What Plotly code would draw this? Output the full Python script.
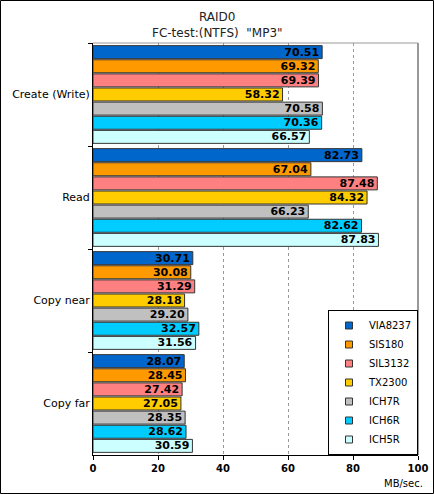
import plotly.graph_objects as go

categories = ["Create (Write)", "Read", "Copy near", "Copy far"]
series_names = ["VIA8237", "SIS180", "SIL3132", "TX2300", "ICH7R", "ICH6R", "ICH5R"]
series_values = [
    [70.51, 82.73, 30.71, 28.07],
    [69.32, 67.04, 30.08, 28.45],
    [69.39, 87.48, 31.29, 27.42],
    [58.32, 84.32, 28.18, 27.05],
    [70.58, 66.23, 29.20, 28.35],
    [70.36, 82.62, 32.57, 28.62],
    [66.57, 87.83, 31.56, 30.59],
]
colors = ["#0066CC", "#FF9900", "#FF8080", "#FFCC00", "#C0C0C0", "#00CCFF", "#CCFFFF"]
x_ticks = [0, 20, 40, 60, 80, 100]

fig = go.Figure()
for name, vals, col in zip(series_names, series_values, colors):
    fig.add_trace(go.Bar(
        y=categories, x=vals, name=name, orientation="h", showlegend=False,
        marker=dict(color=col, line=dict(color="#333333", width=1)),
        texttemplate="%{x:.2f}", textposition="inside", insidetextanchor="end",
        textangle=0, constraintext="none",
        textfont=dict(family="DejaVu Sans", size=11, color="black", weight="bold"),
    ))
# legend entries (small square swatches)
for name, col in zip(series_names, colors):
    fig.add_trace(go.Scatter(
        x=[None], y=[None], mode="markers", name=name,
        marker=dict(symbol="square", size=7, color=col, line=dict(color="#333333", width=1)),
    ))

W, H = 434, 494
ml, mr, mt, mb = 93, 16, 43, 39
pw, ph = W - ml - mr, H - mt - mb

fig.update_layout(
    width=W, height=H,
    margin=dict(l=ml, r=mr, t=mt, b=mb, autoexpand=False),
    paper_bgcolor="white", plot_bgcolor="white",
    barmode="group", bargap=0.04, bargroupgap=0.08,
    font=dict(family="DejaVu Sans", size=10, color="black"),
    showlegend=True,
    legend=dict(x=1, xanchor="right", y=0, yanchor="bottom",
                bgcolor="white", bordercolor="black", borderwidth=1,
                font=dict(family="DejaVu Sans", size=10), tracegroupgap=0,
                traceorder="normal", itemwidth=30),
    xaxis=dict(range=[0, 100], tickvals=x_ticks, ticks="outside", ticklen=4,
               tickcolor="black", showline=True, linecolor="black",
               showgrid=True, gridcolor="#999999", griddash="dot", gridwidth=1,
               zeroline=False, automargin=False,
               tickfont=dict(family="DejaVu Sans", size=10, weight="bold")),
    yaxis=dict(autorange="reversed", categoryorder="array", categoryarray=categories,
               tickson="boundaries", ticks="outside", ticklen=4, tickcolor="black",
               showline=True, linecolor="black", showgrid=False, automargin=False,
               tickfont=dict(family="DejaVu Sans", size=11)),
    shapes=[
        dict(type="line", xref="paper", yref="paper", x0=0, x1=1, y0=1, y1=1,
             line=dict(color="#999999", width=1)),
        dict(type="line", xref="paper", yref="paper", x0=1, x1=1, y0=0, y1=1,
             line=dict(color="#999999", width=2)),
        dict(type="rect", xref="paper", yref="paper",
             x0=-(ml - 0.5) / pw, x1=(W - ml - 0.5) / pw,
             y0=-(mb - 0.5) / ph, y1=1 + (mt - 0.5) / ph,
             line=dict(color="black", width=1)),
    ],
    annotations=[
        dict(text="RAID0", xref="paper", yref="paper",
             x=(217 - ml) / pw, y=1 + (mt - 17) / ph, xanchor="center", yanchor="middle",
             showarrow=False, font=dict(family="DejaVu Sans", size=12, color="#222222")),
        dict(text="FC-test:(NTFS)  \"MP3\"", xref="paper", yref="paper",
             x=(217 - ml) / pw, y=1 + (mt - 33) / ph, xanchor="center", yanchor="middle",
             showarrow=False, font=dict(family="DejaVu Sans", size=12, color="#222222")),
        dict(text="MB/sec.", xref="paper", yref="paper",
             x=(425 - ml) / pw, y=-(483 - mt - ph) / ph, xanchor="right", yanchor="middle",
             showarrow=False, font=dict(family="DejaVu Sans", size=10)),
    ],
)

fig.write_html("out.html", config={"displayModeBar": False},
               post_script="document.body.style.margin='0';document.body.style.overflow='hidden';")
